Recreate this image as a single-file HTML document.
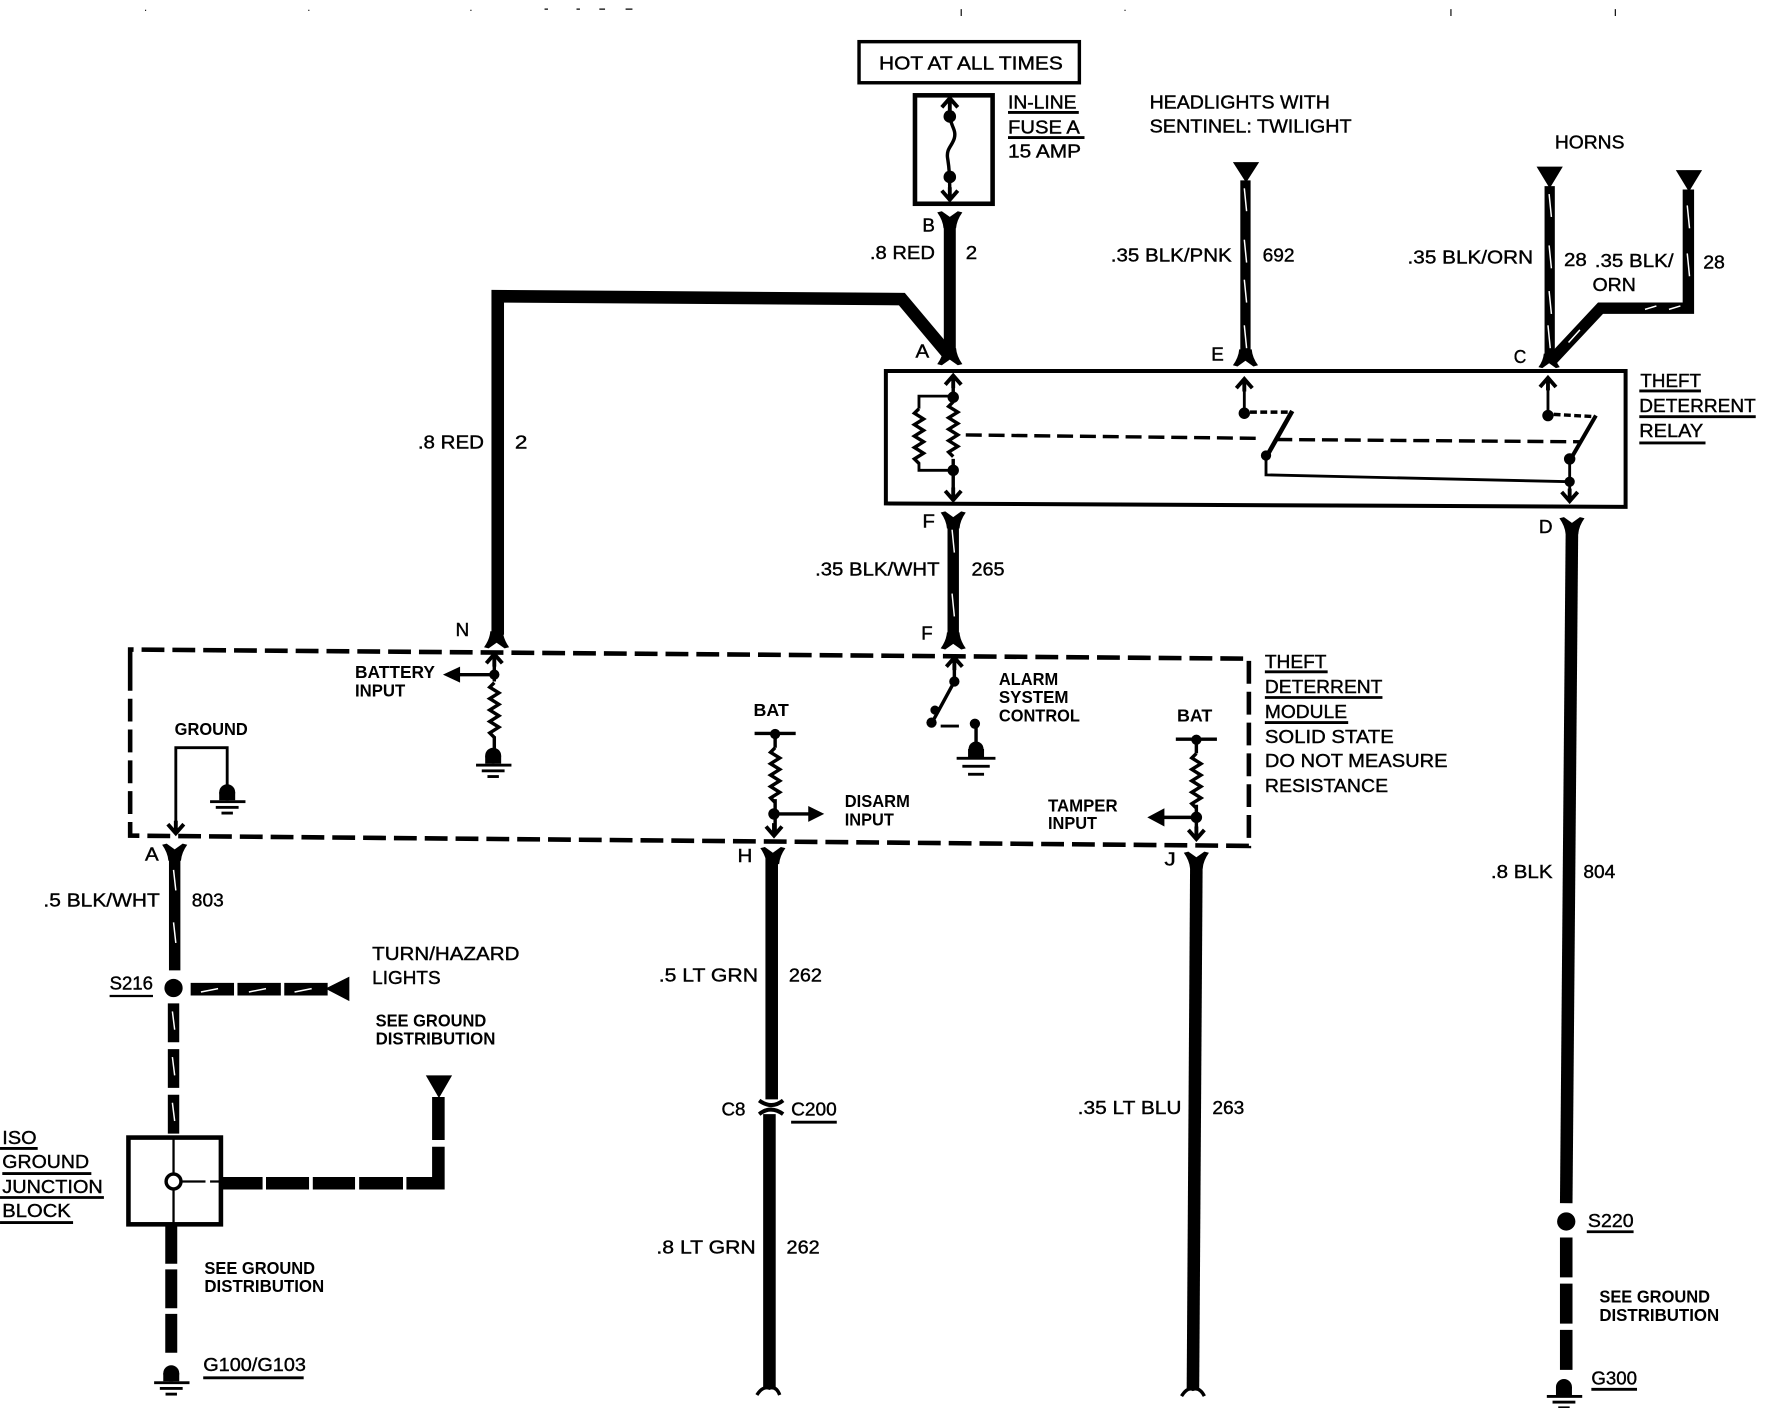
<!DOCTYPE html>
<html>
<head>
<meta charset="utf-8">
<title>Theft Deterrent Wiring Diagram</title>
<style>
html,body{margin:0;padding:0;background:#fff}
svg{display:block}
text{font-family:"Liberation Sans",sans-serif;font-size:16.5px;fill:#000;stroke:#000;stroke-width:.35px}
text.b{font-weight:bold;font-size:15px;stroke-width:0}
</style>
</head>
<body>
<svg xmlns="http://www.w3.org/2000/svg" width="1790" height="1408" viewBox="0 0 1568 1233.4">
<defs>
<path id="fork" d="M-11,-9 L-7,-10 L0,-5 L7,-10 L11,-9 Q6,-2 5.500,5 L-5.500,5 Q-6,-2 -11,-9 Z"/>
<path id="chev" d="M-7,7 L0,-1 L7,7 M0,-1 L0,10" fill="none" stroke="#000" stroke-width="3.400"/>
<path id="coil" d="M0,0 l-4,4 l8,5 l-8,5 l8,5 l-8,5 l8,5 l-8,5 l8,5 l-8,5 l4,4" fill="none" stroke="#000" stroke-width="3"/>
<g id="gnd">
<circle cx="0" cy="0" r="7"/><rect x="-7" y="0" width="14" height="7"/>
<rect x="-15" y="7" width="31" height="2.500"/><rect x="-10" y="12" width="20" height="2.500"/><rect x="-5" y="17" width="10" height="2.500"/>
</g>
</defs>
<rect width="1568" height="1233.4" fill="#fff"/>

<!-- page specks -->
<path d="M842 8v6M1271 8v6M1415 8v6M127 9h1M270 9h1M412 9h1M477 8h3M505 8h3M525 8h5M548 8h6M985 9h1" stroke="#000" stroke-width="1"/>

<!-- hot box and fuse -->
<rect x="752.500" y="36.500" width="193" height="36" fill="none" stroke="#000" stroke-width="3"/>
<text x="770" y="61" textLength="161" lengthAdjust="spacingAndGlyphs">HOT AT ALL TIMES</text>
<rect x="801.500" y="83.500" width="68" height="95" fill="none" stroke="#000" stroke-width="4"/>
<path d="M832 86V100C832 110 838 113 836 121C834 128 829 130 830 138C831 145 832 148 832 175" fill="none" stroke="#000" stroke-width="3"/>
<use href="#chev" x="832" y="87"/>
<use href="#chev" transform="translate(832 174) scale(1 -1)"/>
<circle cx="832" cy="102" r="5.500"/><circle cx="832" cy="155" r="5.500"/>
<text x="883" y="95" textLength="60" lengthAdjust="spacingAndGlyphs">IN-LINE</text>
<text x="883" y="117" textLength="63" lengthAdjust="spacingAndGlyphs">FUSE A</text>
<text x="883" y="138" textLength="64" lengthAdjust="spacingAndGlyphs">15 AMP</text>
<path d="M883 98.500H945M883 120.500H950" stroke="#000" stroke-width="2.500"/>

<!-- B to A wire -->
<use href="#fork" x="832" y="195"/>
<path d="M832 195V314" stroke="#000" stroke-width="10.500"/>
<path d="M832 312L790 262L436 259.500V556" fill="none" stroke="#000" stroke-width="11"/>
<use href="#fork" transform="translate(832 310) scale(1 -1)"/>
<text x="808" y="203" textLength="11" lengthAdjust="spacingAndGlyphs">B</text>
<text x="762" y="227" textLength="57" lengthAdjust="spacingAndGlyphs">.8 RED</text>
<text x="846" y="227" textLength="10" lengthAdjust="spacingAndGlyphs">2</text>
<text x="802" y="313" textLength="12" lengthAdjust="spacingAndGlyphs">A</text>
<text x="366" y="393" textLength="58" lengthAdjust="spacingAndGlyphs">.8 RED</text>
<text x="451" y="393" textLength="11" lengthAdjust="spacingAndGlyphs">2</text>

<!-- headlights -->
<text x="1007" y="95" textLength="158" lengthAdjust="spacingAndGlyphs">HEADLIGHTS WITH</text>
<text x="1007" y="116" textLength="177" lengthAdjust="spacingAndGlyphs">SENTINEL: TWILIGHT</text>
<path d="M1080 142H1103L1091.500 160Z"/>
<path d="M1091 158V312" stroke="#000" stroke-width="9"/>
<use href="#fork" transform="translate(1091 311) scale(1 -1)"/>
<path d="M1090 165l2 20M1090 210l2 20M1090 245l2 20M1090 285l2 20" stroke="#fff" stroke-width="1.300"/>
<text x="973" y="229" textLength="106" lengthAdjust="spacingAndGlyphs">.35 BLK/PNK</text>
<text x="1106" y="229" textLength="28" lengthAdjust="spacingAndGlyphs">692</text>
<text x="1061" y="316" textLength="11" lengthAdjust="spacingAndGlyphs">E</text>

<!-- horns -->
<text x="1362" y="130" textLength="61" lengthAdjust="spacingAndGlyphs">HORNS</text>
<path d="M1346 146H1369L1357.500 165Z"/><path d="M1468 149H1491L1479.500 168Z"/>
<path d="M1357.500 163V315" stroke="#000" stroke-width="9"/>
<path d="M1479 166V270H1402L1358 317" fill="none" stroke="#000" stroke-width="10"/>
<use href="#fork" transform="translate(1357 314) scale(1 -1) scale(.85)"/>
<path d="M1357 170l2 20M1357 215l2 20M1357 255l2 20M1356 285l2 20M1478 180l2 20M1478 222l2 20M1441 271l10-3M1462 271l10-3M1374 300l10-11" stroke="#fff" stroke-width="1.300"/>
<text x="1233" y="231" textLength="110" lengthAdjust="spacingAndGlyphs">.35 BLK/ORN</text>
<text x="1370" y="233" textLength="20" lengthAdjust="spacingAndGlyphs">28</text>
<text x="1397" y="234" textLength="69" lengthAdjust="spacingAndGlyphs">.35 BLK/</text>
<text x="1395" y="255" textLength="38" lengthAdjust="spacingAndGlyphs">ORN</text>
<text x="1492" y="235" textLength="19" lengthAdjust="spacingAndGlyphs">28</text>
<text x="1326" y="318" textLength="11" lengthAdjust="spacingAndGlyphs">C</text>

<!-- relay box -->
<path d="M776 325H1424V444L776 441Z" fill="none" stroke="#000" stroke-width="3.500"/>
<use href="#chev" x="835" y="330"/>
<path d="M835 330V352M835 402V436" stroke="#000" stroke-width="3"/>
<use href="#coil" x="835" y="352"/>
<use href="#coil" x="805" y="358"/>
<path d="M835 347H805V358M805 405V412H835" fill="none" stroke="#000" stroke-width="2.500"/>
<circle cx="835" cy="348" r="5"/><circle cx="835" cy="412" r="5"/>
<use href="#chev" transform="translate(835 437) scale(1 -1)"/>
<path d="M846 381L1105 384" stroke="#000" stroke-width="3" stroke-dasharray="14 6"/>
<path d="M1118 385L1385 387" stroke="#000" stroke-width="3" stroke-dasharray="14 6"/>
<use href="#chev" x="1090" y="333"/>
<path d="M1090 335V362" stroke="#000" stroke-width="2.500"/>
<circle cx="1090" cy="362" r="5"/>
<path d="M1095 361H1130" stroke="#000" stroke-width="3" stroke-dasharray="6 3"/>
<path d="M1132 360L1110 399" stroke="#000" stroke-width="4"/>
<circle cx="1109" cy="399" r="4.500"/>
<path d="M1109 399V416L1375 422" fill="none" stroke="#000" stroke-width="2.500"/>
<use href="#chev" x="1356" y="332"/>
<path d="M1356 334V364" stroke="#000" stroke-width="2.500"/>
<circle cx="1356" cy="364" r="5"/>
<path d="M1361 363L1397 365" stroke="#000" stroke-width="3" stroke-dasharray="6 3"/>
<path d="M1398 364L1376 402" stroke="#000" stroke-width="3.500"/>
<circle cx="1375" cy="402" r="5"/><circle cx="1375" cy="422" r="4.500"/>
<path d="M1375 402V438" stroke="#000" stroke-width="2.500"/>
<use href="#chev" transform="translate(1375 438) scale(1 -1)"/>
<text x="1437" y="339" textLength="53" lengthAdjust="spacingAndGlyphs">THEFT</text>
<text x="1436" y="361" textLength="102" lengthAdjust="spacingAndGlyphs">DETERRENT</text>
<text x="1436" y="383" textLength="56" lengthAdjust="spacingAndGlyphs">RELAY</text>
<path d="M1436 342.500H1490M1436 365H1538M1436 388H1494" stroke="#000" stroke-width="2.500"/>

<!-- F wire -->
<use href="#fork" x="835" y="458"/>
<path d="M835 458V560" stroke="#000" stroke-width="10"/>
<use href="#fork" transform="translate(835 559) scale(1 -1)"/>
<path d="M834 464l2 20M834 520l2 20" stroke="#fff" stroke-width="1.300"/>
<text x="808" y="462" textLength="11" lengthAdjust="spacingAndGlyphs">F</text>
<text x="714" y="504" textLength="109" lengthAdjust="spacingAndGlyphs">.35 BLK/WHT</text>
<text x="851" y="504" textLength="29" lengthAdjust="spacingAndGlyphs">265</text>
<text x="807" y="560" textLength="10" lengthAdjust="spacingAndGlyphs">F</text>

<!-- D wire -->
<use href="#fork" x="1377" y="463"/>
<path d="M1377 463L1372 1054" stroke="#000" stroke-width="11"/>
<text x="1348" y="467" textLength="12" lengthAdjust="spacingAndGlyphs">D</text>
<text x="1306" y="769" textLength="54" lengthAdjust="spacingAndGlyphs">.8 BLK</text>
<text x="1387" y="769" textLength="28" lengthAdjust="spacingAndGlyphs">804</text>
<circle cx="1372" cy="1070" r="8"/>
<path d="M1372 1084V1203" stroke="#000" stroke-width="11" stroke-dasharray="35 5.500"/>
<use href="#gnd" x="1370" y="1215"/>
<text x="1391" y="1075" textLength="40" lengthAdjust="spacingAndGlyphs">S220</text>
<path d="M1390 1079H1431M1394 1217H1434" stroke="#000" stroke-width="2.500"/>
<text class="b" x="1401" y="1141" textLength="97" lengthAdjust="spacingAndGlyphs">SEE GROUND</text>
<text class="b" x="1401" y="1157" textLength="105" lengthAdjust="spacingAndGlyphs">DISTRIBUTION</text>
<text x="1394" y="1213" textLength="40" lengthAdjust="spacingAndGlyphs">G300</text>

<!-- module -->
<path d="M114 586V569L1094 577V741L114 732V586" fill="none" stroke="#000" stroke-width="4" stroke-dasharray="20 7"/>
<use href="#fork" transform="translate(435 558) scale(1 -1)"/>
<text x="399" y="557" textLength="12" lengthAdjust="spacingAndGlyphs">N</text>
<use href="#chev" x="433" y="574"/>
<path d="M433 575V597" stroke="#000" stroke-width="3"/>
<circle cx="433" cy="591" r="4.500"/>
<path d="M433 591H400" stroke="#000" stroke-width="3"/>
<path d="M388 591L403 584V598Z"/>
<use href="#coil" x="433" y="598"/>
<path d="M433 645V660" stroke="#000" stroke-width="3"/>
<use href="#gnd" x="432" y="662"/>
<text class="b" x="311" y="594" textLength="70" lengthAdjust="spacingAndGlyphs">BATTERY</text>
<text class="b" x="311" y="610" textLength="44" lengthAdjust="spacingAndGlyphs">INPUT</text>
<text class="b" x="153" y="644" textLength="64" lengthAdjust="spacingAndGlyphs">GROUND</text>
<path d="M154 728V655H199V688" fill="none" stroke="#000" stroke-width="2.500"/>
<use href="#chev" transform="translate(154 729) scale(1 -1)"/>
<use href="#gnd" x="199" y="694"/>

<!-- A wire -->
<use href="#fork" x="153" y="749"/>
<path d="M153 749V850" stroke="#000" stroke-width="10"/>
<path d="M152 762l2 18M152 808l2 18" stroke="#fff" stroke-width="1.300"/>
<text x="127" y="754" textLength="12" lengthAdjust="spacingAndGlyphs">A</text>
<text x="38" y="794" textLength="102" lengthAdjust="spacingAndGlyphs">.5 BLK/WHT</text>
<text x="168" y="794" textLength="28" lengthAdjust="spacingAndGlyphs">803</text>
<circle cx="152" cy="865.500" r="8"/>
<text x="96" y="867" textLength="38" lengthAdjust="spacingAndGlyphs">S216</text>
<path d="M96 872.500H134" stroke="#000" stroke-width="2"/>
<path d="M167 866.500H287" stroke="#000" stroke-width="11" stroke-dasharray="38 3"/>
<path d="M285 866L306 855.500V877Z"/>
<path d="M176 869l15-3M218 869l15-3M258 869l15-3" stroke="#fff" stroke-width="1.300"/>
<text x="326" y="841" textLength="129" lengthAdjust="spacingAndGlyphs">TURN/HAZARD</text>
<text x="326" y="862" textLength="60" lengthAdjust="spacingAndGlyphs">LIGHTS</text>
<text class="b" x="329" y="899" textLength="97" lengthAdjust="spacingAndGlyphs">SEE GROUND</text>
<text class="b" x="329" y="915" textLength="105" lengthAdjust="spacingAndGlyphs">DISTRIBUTION</text>
<path d="M152 879V996" stroke="#000" stroke-width="10" stroke-dasharray="34 6"/>
<path d="M151 886l2 16M151 926l2 16M151 966l2 16" stroke="#fff" stroke-width="1.300"/>

<!-- ISO block -->
<rect x="112.500" y="996.500" width="81" height="76" fill="none" stroke="#000" stroke-width="4"/>
<path d="M152 996V1028M152 1042V1075M159 1035H180M184 1035H194" stroke="#000" stroke-width="2"/>
<circle cx="152" cy="1035" r="6.500" fill="#fff" stroke="#000" stroke-width="3"/>
<path d="M195 1036.500H230M233 1036.500H270.700M274 1036.500H311M314.600 1036.500H353M356 1036.500H389.500M384 1042V1004.600M384 998.600V961" fill="none" stroke="#000" stroke-width="11"/>
<path d="M373 942H396L384.500 962Z"/>
<text x="2" y="1002" textLength="30" lengthAdjust="spacingAndGlyphs">ISO</text>
<text x="2" y="1023" textLength="76" lengthAdjust="spacingAndGlyphs">GROUND</text>
<text x="2" y="1045" textLength="88" lengthAdjust="spacingAndGlyphs">JUNCTION</text>
<text x="2" y="1066" textLength="60" lengthAdjust="spacingAndGlyphs">BLOCK</text>
<path d="M0 1006H33M2 1028H80M0 1049H91M0 1071H64" stroke="#000" stroke-width="2.500"/>
<path d="M150 1073V1190" stroke="#000" stroke-width="10.500" stroke-dasharray="34 5"/>
<use href="#gnd" x="150" y="1203"/>
<text class="b" x="179" y="1116" textLength="97" lengthAdjust="spacingAndGlyphs">SEE GROUND</text>
<text class="b" x="179" y="1132" textLength="105" lengthAdjust="spacingAndGlyphs">DISTRIBUTION</text>
<text x="178" y="1201" textLength="90" lengthAdjust="spacingAndGlyphs">G100/G103</text>
<path d="M178 1207H266" stroke="#000" stroke-width="2.500"/>

<!-- disarm -->
<text class="b" x="660" y="627" textLength="31" lengthAdjust="spacingAndGlyphs">BAT</text>
<path d="M661 642.500H697" stroke="#000" stroke-width="3"/>
<circle cx="679" cy="643" r="4.500"/>
<use href="#coil" x="679" y="655"/>
<path d="M679 643V655M679 700V728M679 713H712" stroke="#000" stroke-width="3" fill="none"/>
<circle cx="678" cy="713" r="5"/>
<path d="M722 713L708 706V720Z"/>
<use href="#chev" transform="translate(678 731) scale(1 -1)"/>
<text class="b" x="740" y="707" textLength="57" lengthAdjust="spacingAndGlyphs">DISARM</text>
<text class="b" x="740" y="723" textLength="43" lengthAdjust="spacingAndGlyphs">INPUT</text>
<use href="#fork" x="677" y="752"/>
<path d="M676 752V963" stroke="#000" stroke-width="11"/>
<text x="646" y="755" textLength="13" lengthAdjust="spacingAndGlyphs">H</text>
<text x="577" y="860" textLength="87" lengthAdjust="spacingAndGlyphs">.5 LT GRN</text>
<text x="691" y="860" textLength="29" lengthAdjust="spacingAndGlyphs">262</text>
<path d="M665 964Q676 972 686 964" fill="none" stroke="#000" stroke-width="3.500"/>
<path d="M665 976Q675 968 686 976" fill="none" stroke="#000" stroke-width="3.500"/>
<path d="M674 976V1215" stroke="#000" stroke-width="11"/>
<path d="M663 1222Q668 1214 674 1216Q680 1214 683 1222" fill="none" stroke="#000" stroke-width="3"/>
<text x="632" y="977" textLength="21" lengthAdjust="spacingAndGlyphs">C8</text>
<text x="693" y="977" textLength="40" lengthAdjust="spacingAndGlyphs">C200</text>
<path d="M693 983H733" stroke="#000" stroke-width="2.500"/>
<text x="575" y="1098" textLength="87" lengthAdjust="spacingAndGlyphs">.8 LT GRN</text>
<text x="689" y="1098" textLength="29" lengthAdjust="spacingAndGlyphs">262</text>

<!-- alarm -->
<use href="#chev" x="836" y="577"/>
<path d="M836 578V597L817 632" fill="none" stroke="#000" stroke-width="3"/>
<circle cx="836" cy="597" r="4.500"/><circle cx="819" cy="622" r="4"/><circle cx="816" cy="633" r="4.500"/>
<path d="M824 636H840" stroke="#000" stroke-width="2.500"/>
<circle cx="854" cy="634" r="4.500"/>
<path d="M855 636V654" stroke="#000" stroke-width="3"/>
<circle cx="855" cy="656" r="6.500"/><rect x="848" y="656" width="14" height="8"/>
<rect x="838" y="663" width="34" height="2.500"/><rect x="843" y="670" width="24" height="2.500"/><rect x="848" y="677" width="14" height="2.500"/>
<text class="b" x="875" y="600" textLength="52" lengthAdjust="spacingAndGlyphs">ALARM</text>
<text class="b" x="875" y="616" textLength="61" lengthAdjust="spacingAndGlyphs">SYSTEM</text>
<text class="b" x="875" y="632" textLength="71" lengthAdjust="spacingAndGlyphs">CONTROL</text>

<!-- tamper -->
<text class="b" x="1031" y="632" textLength="31" lengthAdjust="spacingAndGlyphs">BAT</text>
<path d="M1030 647.500H1066" stroke="#000" stroke-width="3"/>
<circle cx="1048" cy="648" r="4.500"/>
<use href="#coil" x="1048" y="660"/>
<path d="M1048 648V660M1048 705V731M1048 716H1018" stroke="#000" stroke-width="3" fill="none"/>
<circle cx="1048" cy="716" r="5"/>
<path d="M1005 716L1020 708V724Z"/>
<use href="#chev" transform="translate(1048 734) scale(1 -1)"/>
<text class="b" x="918" y="711" textLength="61" lengthAdjust="spacingAndGlyphs">TAMPER</text>
<text class="b" x="918" y="726" textLength="43" lengthAdjust="spacingAndGlyphs">INPUT</text>
<use href="#fork" x="1048" y="756"/>
<path d="M1048 756L1045 1216" stroke="#000" stroke-width="11"/>
<path d="M1035 1223Q1040 1215 1045 1217Q1051 1215 1055 1223" fill="none" stroke="#000" stroke-width="3"/>
<text x="1020" y="758" textLength="10" lengthAdjust="spacingAndGlyphs">J</text>
<text x="944" y="976" textLength="91" lengthAdjust="spacingAndGlyphs">.35 LT BLU</text>
<text x="1062" y="976" textLength="28" lengthAdjust="spacingAndGlyphs">263</text>

<!-- module labels -->
<text x="1108" y="585" textLength="54" lengthAdjust="spacingAndGlyphs">THEFT</text>
<text x="1108" y="607" textLength="103" lengthAdjust="spacingAndGlyphs">DETERRENT</text>
<text x="1108" y="629" textLength="72" lengthAdjust="spacingAndGlyphs">MODULE</text>
<text x="1108" y="651" textLength="113" lengthAdjust="spacingAndGlyphs">SOLID STATE</text>
<text x="1108" y="672" textLength="160" lengthAdjust="spacingAndGlyphs">DO NOT MEASURE</text>
<text x="1108" y="694" textLength="108" lengthAdjust="spacingAndGlyphs">RESISTANCE</text>
<path d="M1108 588.500H1163M1108 611H1211M1108 633H1181" stroke="#000" stroke-width="2.500"/>
</svg>
</body>
</html>
